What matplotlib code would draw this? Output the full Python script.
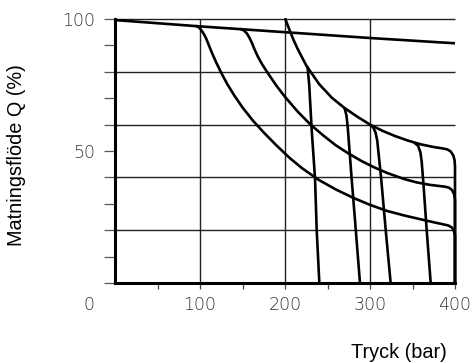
import matplotlib
matplotlib.use("Agg")
import matplotlib.pyplot as plt

# ── Data (x = pressure in bar, y = feed flow Q in %) ─────────────────────────
max_flow_x = [0, 100, 200, 300, 400]
max_flow_y = [99.6, 97.2, 95.0, 92.8, 90.8]

# constant-power curves, low / mid / high
power_low_x = [95, 98, 101, 104, 107, 110, 114, 119, 125, 132, 140, 150, 162, 175, 190,
               205, 220, 240, 260, 280, 300, 320, 340, 360, 375, 385, 392, 396, 398.5,
               400, 400]
power_low_y = [97.4, 97.0, 96.0, 94.6, 92.8, 90.4, 87.2, 83.6, 79.6, 75.4, 71.2, 66.5,
               61.6, 57.0, 52.1, 47.5, 43.5, 39.0, 35.4, 32.3, 29.6, 27.3, 25.6, 24.1,
               23.0, 22.3, 21.8, 21.1, 20.0, 18.0, 0]

power_mid_x = [147, 151, 155, 158, 161, 164, 168, 173, 180, 190, 200, 215, 230, 245,
               260, 275, 290, 305, 320, 340, 355, 370, 380, 388, 393, 396.5, 398.8,
               400, 400]
power_mid_y = [96.3, 95.8, 94.6, 93.0, 91.0, 88.6, 85.8, 82.9, 79.4, 74.7, 70.5, 64.9,
               60.0, 55.9, 52.1, 49.0, 46.2, 43.8, 41.7, 39.4, 38.1, 37.2, 36.8, 36.5,
               36.1, 35.2, 33.8, 31.5, 0]

power_high_x = [200, 205, 210, 215, 225, 240, 255, 270, 285, 300, 315, 330, 345, 360,
                375, 385, 391, 395, 398, 399.5, 400, 400]
power_high_y = [100.3, 96.1, 92.1, 88.6, 82.4, 75.4, 70.2, 66.3, 63.0, 60.0, 57.6, 55.6,
                53.9, 52.5, 51.5, 51.0, 50.6, 49.8, 48.3, 46.5, 44.0, 0]

# pressure cut-off lines
cutoff_240_x = [226.5, 228.5, 231.4, 235.3, 237.3, 240.4]
cutoff_240_y = [82.0, 75.0, 58.0, 39.7, 20.0, 0]
cutoff_288_x = [270, 272.3, 273.8, 278.3, 283.3, 288.2]
cutoff_288_y = [66.3, 63.5, 59.0, 40.0, 20.0, 0]
cutoff_324_x = [300.5, 304, 306.5, 308.5, 313, 318.5, 324.3]
cutoff_324_y = [59.9, 58.8, 57.0, 54.0, 40.0, 20.0, 0]
cutoff_371_x = [352, 356.5, 359.3, 360.8, 363, 366.7, 371.4]
cutoff_371_y = [53.2, 52.0, 49.5, 46.0, 37.0, 20.0, 0]

x_ticks = [50, 100, 150, 200, 250, 300, 350, 400]
x_labels = ["", "100", "", "200", "", "300", "", "400"]
y_ticks = list(range(0, 101, 10))
y_labels = ["100" if v == 100 else "50" if v == 50 else "" for v in y_ticks]
grid_x = [100, 200, 300]
grid_y = [20, 40, 60, 80, 100]

# ── Figure ───────────────────────────────────────────────────────────────────
fig = plt.figure(figsize=(4.73, 3.63), dpi=100)
ax = fig.add_axes([115 / 473, 1 - 283 / 363, 340 / 473, 264 / 363])
ax.set_xlim(0, 400)
ax.set_ylim(0, 100)

ax.vlines(grid_x, 0, 100, color="#222222", lw=1.0, zorder=1)
ax.hlines(grid_y, 0, 400, color="#222222", lw=1.0, zorder=1, clip_on=False)

curves = [
    (max_flow_x, max_flow_y), (power_low_x, power_low_y),
    (power_mid_x, power_mid_y), (power_high_x, power_high_y),
    (cutoff_240_x, cutoff_240_y), (cutoff_288_x, cutoff_288_y),
    (cutoff_324_x, cutoff_324_y), (cutoff_371_x, cutoff_371_y),
]
for cx, cy in curves:
    ax.plot(cx, cy, color="black", lw=1.9, solid_joinstyle="round",
            solid_capstyle="butt", clip_on=False, zorder=3)

for side in ["top", "right"]:
    ax.spines[side].set_visible(False)
for side in ["left", "bottom"]:
    ax.spines[side].set_linewidth(2.2)
    ax.spines[side].set_zorder(4)

tick_font = dict(family="DejaVu Sans", weight="light", size=12.5)
ax.set_xticks(x_ticks)
ax.set_xticklabels(x_labels, color="#333333", **tick_font)
ax.set_yticks(y_ticks)
ax.set_yticklabels(y_labels, color="#333333", **tick_font)
ax.tick_params(axis="x", direction="out", length=4.5, width=0.9, color="#444444", pad=5)
ax.tick_params(axis="y", direction="out", length=8, width=0.9, color="#555555", pad=6)

# origin label sits off the corner
fig.text(89 / 473, 1 - 305 / 363, "0", ha="center", va="center",
         color="#333333", **tick_font)

label_font = dict(family="Liberation Sans", size=14.3, color="black")
fig.text(17 / 473, 1 - 155 / 363, "Matningsflöde Q (%)", rotation=90,
         ha="center", va="center", **label_font)
fig.text(447 / 473, 1 - 352 / 363, "Tryck (bar)", ha="right", va="center",
         **label_font)

fig.savefig("out.png", dpi=100)
plt.close(fig)
